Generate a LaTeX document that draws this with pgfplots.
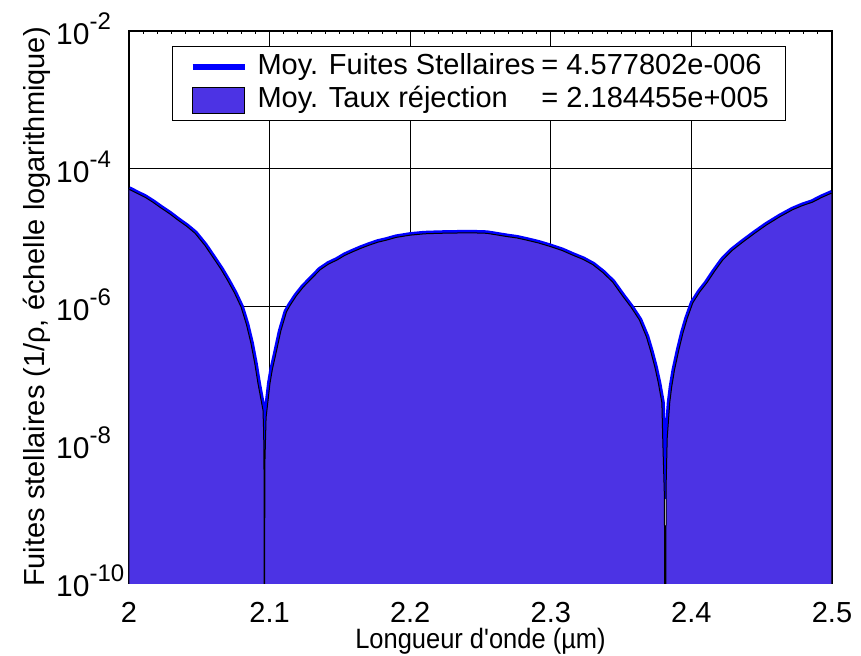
\documentclass[border=0pt]{standalone}
\usepackage{fontspec}
\setmainfont{Liberation Sans}[Ligatures=TeXOff]
\newfontfamily\narrowfont{Liberation Sans}[Ligatures=TeXOff, FakeStretch=0.91]
\usepackage{pgfplots}
\usepackage{pgfplotstable}
\pgfplotsset{compat=1.18}
\definecolor{fillc}{RGB}{76,51,228}
% stellar leakage curve (line)
\pgfplotstableread{
x y
2.000 5.1e-5
2.0057 4.45e-5
2.0114 3.9e-5
2.017 3.3e-5
2.0228 2.72e-5
2.029 2.24e-5
2.0348 1.82e-5
2.041 1.48e-5
2.047 1.17e-5
2.054 7.8e-6
2.061 4.8e-6
2.0655 3.5e-6
2.070 2.45e-6
2.075 1.6e-6
2.0797 1.0e-6
2.0835 5.6e-7
2.0867 3.0e-7
2.0895 1.5e-7
2.0917 7.9e-8
2.0935 5.0e-8
2.0953 3.2e-8
2.0958 1.5e-8
2.0961 2.8e-9
2.0966 5e-9
2.0975 2.5e-8
2.1003 7.9e-8
2.102 1.26e-7
2.104 1.9e-7
2.108 4.5e-7
2.112 8.5e-7
2.1145 1.05e-6
2.119 1.45e-6
2.124 1.95e-6
2.130 2.6e-6
2.136 3.47e-6
2.142 4.2e-6
2.148 4.8e-6
2.1535 5.6e-6
2.159 6.3e-6
2.165 7.1e-6
2.171 7.9e-6
2.177 8.7e-6
2.183 9.3e-6
2.190 1.02e-5
2.200 1.1e-5
2.210 1.15e-5
2.221 1.17e-5
2.2425 1.19e-5
2.2545 1.17e-5
2.2615 1.11e-5
2.2687 1.05e-5
2.276 1.0e-5
2.283 9.3e-6
2.291 8.5e-6
2.299 7.6e-6
2.308 6.6e-6
2.316 5.6e-6
2.323 4.9e-6
2.330 4.1e-6
2.337 3.16e-6
2.344 2.3e-6
2.351 1.45e-6
2.357 1.0e-6
2.363 6.5e-7
2.3655 4.9e-7
2.368 3.7e-7
2.371 2.3e-7
2.374 1.35e-7
2.3765 7.9e-8
2.379 4.1e-8
2.3797 1.07e-8
2.3808 1.8e-9
2.382 2.5e-9
2.3828 1.26e-8
2.3846 4.1e-8
2.386 7.0e-8
2.388 1.23e-7
2.391 2.35e-7
2.394 4.2e-7
2.397 6.8e-7
2.401 1.15e-6
2.406 1.66e-6
2.411 2.24e-6
2.4165 3.3e-6
2.4223 4.8e-6
2.429 6.6e-6
2.4365 8.7e-6
2.445 1.17e-5
2.4535 1.55e-5
2.463 2.04e-5
2.472 2.57e-5
2.479 2.95e-5
2.486 3.3e-5
2.493 3.9e-5
2.500 4.5e-5
}\leaktable
% filled area: same curve, with the two nulls reaching below the axis
\pgfplotstableread{
x y
2.000 1e-13
2.000 5.1e-5
2.0057 4.45e-5
2.0114 3.9e-5
2.017 3.3e-5
2.0228 2.72e-5
2.029 2.24e-5
2.0348 1.82e-5
2.041 1.48e-5
2.047 1.17e-5
2.054 7.8e-6
2.061 4.8e-6
2.0655 3.5e-6
2.070 2.45e-6
2.075 1.6e-6
2.0797 1.0e-6
2.0835 5.6e-7
2.0867 3.0e-7
2.0895 1.5e-7
2.0917 7.9e-8
2.0935 5.0e-8
2.0953 3.2e-8
2.0958 1.5e-8
2.0961 2.8e-9
2.0963 1e-13
2.0966 5e-9
2.0975 2.5e-8
2.1003 7.9e-8
2.102 1.26e-7
2.104 1.9e-7
2.108 4.5e-7
2.112 8.5e-7
2.1145 1.05e-6
2.119 1.45e-6
2.124 1.95e-6
2.130 2.6e-6
2.136 3.47e-6
2.142 4.2e-6
2.148 4.8e-6
2.1535 5.6e-6
2.159 6.3e-6
2.165 7.1e-6
2.171 7.9e-6
2.177 8.7e-6
2.183 9.3e-6
2.190 1.02e-5
2.200 1.1e-5
2.210 1.15e-5
2.221 1.17e-5
2.2425 1.19e-5
2.2545 1.17e-5
2.2615 1.11e-5
2.2687 1.05e-5
2.276 1.0e-5
2.283 9.3e-6
2.291 8.5e-6
2.299 7.6e-6
2.308 6.6e-6
2.316 5.6e-6
2.323 4.9e-6
2.330 4.1e-6
2.337 3.16e-6
2.344 2.3e-6
2.351 1.45e-6
2.357 1.0e-6
2.363 6.5e-7
2.3655 4.9e-7
2.368 3.7e-7
2.371 2.3e-7
2.374 1.35e-7
2.3765 7.9e-8
2.379 4.1e-8
2.3797 1.07e-8
2.3808 1.8e-9
2.3815 1e-13
2.382 2.5e-9
2.3828 1.26e-8
2.3846 4.1e-8
2.386 7.0e-8
2.388 1.23e-7
2.391 2.35e-7
2.394 4.2e-7
2.397 6.8e-7
2.401 1.15e-6
2.406 1.66e-6
2.411 2.24e-6
2.4165 3.3e-6
2.4223 4.8e-6
2.429 6.6e-6
2.4365 8.7e-6
2.445 1.17e-5
2.4535 1.55e-5
2.463 2.04e-5
2.472 2.57e-5
2.479 2.95e-5
2.486 3.3e-5
2.493 3.9e-5
2.500 4.5e-5
2.500 1e-13
}\filltable
\begin{document}
\begin{tikzpicture}
\path[use as bounding box] (-64.5pt,-36.5pt) rectangle (366pt,291.5pt);
\begin{axis}[
  at={(0pt,0pt)}, anchor=south west,
  scale only axis, width=351.5pt, height=276pt,
  xmin=2, xmax=2.5, ymode=log, ymin=1e-10, ymax=1e-2,
  xtick={2,2.1,2.2,2.3,2.4,2.5}, minor x tick num=9,
  ytick={1e-10,1e-8,1e-6,1e-4,1e-2}, yminorticks=false,
  tick align=inside, major tick length=3pt, minor tick length=1.5pt,
  tick style={black, line width=0.5pt},
  axis line style={line width=0.6pt},
  grid=major, grid style={black, line width=0.5pt},
  /pgf/number format/assume math mode=true,
  yticklabel={\pgfmathparse{int(round(\tick/ln(10)))}10\rlap{\raisebox{7.5pt}{\fontsize{12}{14}\selectfont\pgfmathresult}}},
  yticklabel style={font=\fontsize{15}{18}\selectfont, anchor=base east, inner sep=0pt, xshift=-19.5pt, yshift=-6.75pt},
  xticklabel style={font=\fontsize{14.5}{18}\selectfont, anchor=base, inner sep=0pt, yshift=-19.5pt},
  xlabel={Longueur d'onde (µm)},
  xlabel style={font=\narrowfont\fontsize{14}{17}\selectfont, at={(axis description cs:0.5,0)}, anchor=base, inner sep=0pt, yshift=-32.5pt},
  ylabel={Fuites stellaires (1/ρ, échelle logarithmique)},
  ylabel style={font=\fontsize{14.5}{17}\selectfont, at={(axis description cs:-0.1195,0.5)}, anchor=base, inner sep=0pt},
  legend cell align=left,
  legend style={at={(rel axis cs:0.0612,0.9728)}, anchor=north west,
    draw=black, line width=0.5pt, fill=white,
    inner xsep=8.5pt, inner ysep=2pt, row sep=0pt,
    font=\fontsize{14.5}{17}\selectfont,
    nodes={inner sep=0pt, text height=12pt, text depth=4.5pt},
    /tikz/every odd column/.style={column sep=5pt}},
]
\addplot[blue, line width=3pt, line join=round,
  legend image code/.code={\draw[blue, line width=3pt] (0pt,0pt) -- (26pt,0pt);}]
  table[x=x, y=y] {\leaktable};
\addlegendentry{\makebox[142pt][l]{Moy. Fuites Stellaires}= 4.577802e-006}
\addplot[fill=fillc, draw=black, line width=0.5pt,
  legend image code/.code={\draw[fill=fillc, draw=black, line width=0.5pt] (0pt,-6.5pt) rectangle (26pt,6.5pt);}]
  table[x=x, y=y] {\filltable} -- cycle;
\addlegendentry{\makebox[142pt][l]{Moy. Taux réjection}= 2.184455e+005}
\end{axis}
\end{tikzpicture}
\end{document}
